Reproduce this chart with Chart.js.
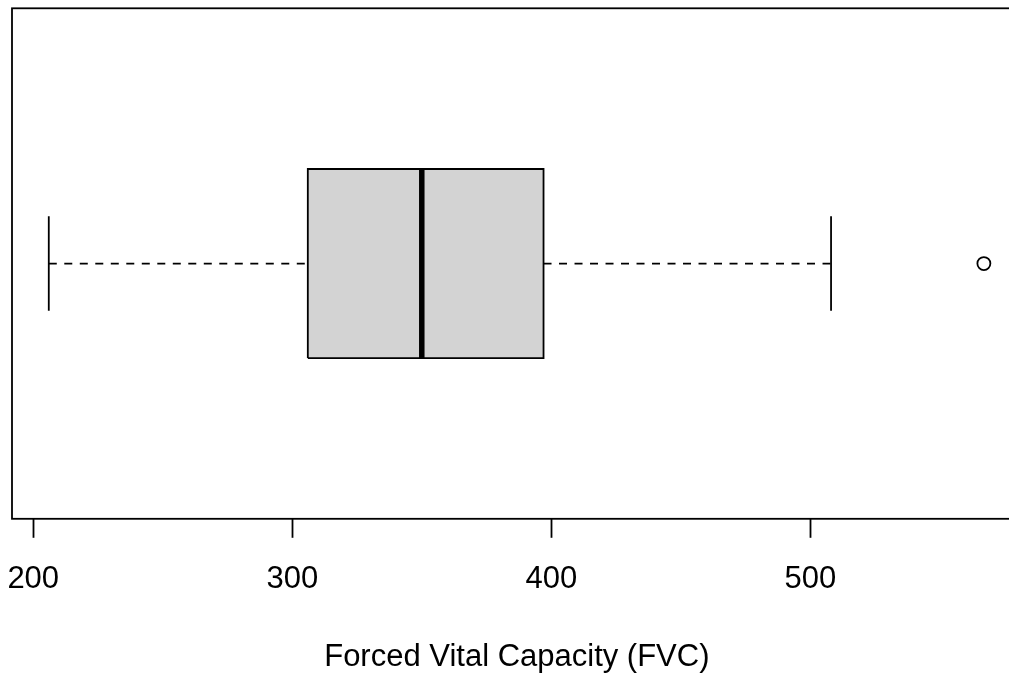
<!DOCTYPE html>
<html>
<head>
<meta charset="utf-8">
<script src="https://cdn.jsdelivr.net/npm/chart.js@4.4.0/dist/chart.umd.min.js"></script>
<style>
  html, body { margin: 0; padding: 0; background: #fff; overflow: hidden; }
  canvas { display: block; }
</style>
</head>
<body>
<canvas id="fvcBox" width="1030" height="673"></canvas>
<script>
// five-number summary of FVC
var lowerWhisker = [206];
var quartiles = [306, 397];
var median = [350];
var upperWhisker = [508];
var outliers = [567];
var tickLabels = [200, 300, 400, 500];
var axisTitle = "Forced Vital Capacity (FVC)";

var boxY = 1, boxHalf = 0.2, stapleHalf = 0.1;

var frame = {
    id: 'frame',
    afterDraw: function (chart) {
        var a = chart.chartArea, c = chart.ctx;
        c.save();
        c.strokeStyle = '#000';
        c.lineWidth = 1.8;
        c.strokeRect(a.left, a.top, a.right - a.left, a.bottom - a.top);
        c.restore();
    }
};

var q1 = quartiles[0], q3 = quartiles[1];
var ctx = document.getElementById("fvcBox");
var boxChart = new Chart(ctx, {
    type: 'scatter',
    data: {
        datasets: [
            {
                data: [{x: lowerWhisker[0], y: boxY}, {x: q1, y: boxY}],
                showLine: true, borderColor: '#000', borderWidth: 1.8,
                borderDash: [8, 7.5], pointRadius: 0, order: 3
            },
            {
                data: [{x: q3, y: boxY}, {x: upperWhisker[0], y: boxY}],
                showLine: true, borderColor: '#000', borderWidth: 1.8,
                borderDash: [8, 7.5], pointRadius: 0, order: 3
            },
            {
                data: [{x: lowerWhisker[0], y: boxY - stapleHalf}, {x: lowerWhisker[0], y: boxY + stapleHalf}],
                showLine: true, borderColor: '#000', borderWidth: 1.8, pointRadius: 0, order: 3
            },
            {
                data: [{x: upperWhisker[0], y: boxY - stapleHalf}, {x: upperWhisker[0], y: boxY + stapleHalf}],
                showLine: true, borderColor: '#000', borderWidth: 1.8, pointRadius: 0, order: 3
            },
            {
                data: [
                    {x: q1, y: boxY - boxHalf}, {x: q3, y: boxY - boxHalf},
                    {x: q3, y: boxY + boxHalf}, {x: q1, y: boxY + boxHalf},
                    {x: q1, y: boxY - boxHalf}
                ],
                showLine: true, fill: 'shape',
                backgroundColor: '#d3d3d3', borderColor: '#000', borderWidth: 1.8,
                pointRadius: 0, order: 2
            },
            {
                data: [{x: median[0], y: boxY - boxHalf}, {x: median[0], y: boxY + boxHalf}],
                showLine: true, borderColor: '#000', borderWidth: 5.5, pointRadius: 0,
                borderCapStyle: 'butt', order: 1
            },
            {
                data: outliers.map(function (v) { return {x: v, y: boxY}; }),
                pointRadius: 6.5, pointBorderWidth: 1.8,
                pointBackgroundColor: 'rgba(0,0,0,0)', pointBorderColor: '#000', order: 1
            }
        ]
    },
    options: {
        responsive: false,
        animation: false,
        layout: { padding: { left: 12, top: 7, right: 8, bottom: 0 } },
        plugins: { legend: { display: false }, tooltip: { enabled: false } },
        scales: {
            x: {
                type: 'linear',
                min: 191.8,
                max: 581.6,
                afterBuildTicks: function (axis) {
                    axis.ticks = tickLabels.map(function (v) { return {value: v}; });
                },
                afterFit: function (axis) {
                    axis.paddingLeft = 0;
                    axis.paddingRight = 0;
                },
                border: { display: false },
                grid: {
                    drawOnChartArea: false, drawTicks: true, tickLength: 19,
                    tickColor: '#000', tickWidth: 1.8
                },
                ticks: {
                    color: '#000', padding: 23, maxRotation: 0,
                    font: { family: 'Liberation Sans', size: 31 }
                },
                title: {
                    display: true, text: axisTitle, color: '#000',
                    font: { family: 'Liberation Sans', size: 31, lineHeight: 1 },
                    padding: { top: 21, bottom: 0 }
                }
            },
            y: {
                type: 'linear',
                min: 0.46,
                max: 1.54,
                display: false
            }
        }
    },
    plugins: [frame]
});
</script>
</body>
</html>
